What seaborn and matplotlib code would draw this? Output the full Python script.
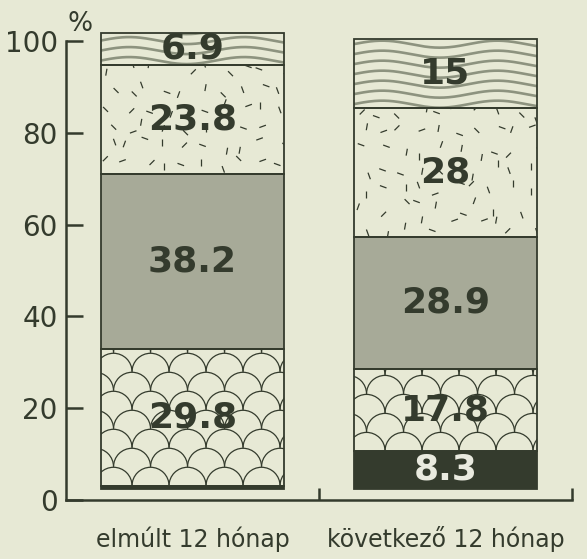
import numpy as np
import seaborn as sns
import matplotlib.pyplot as plt
from matplotlib.patches import Arc, Rectangle

# data: one value per period, segments listed bottom -> top
periods = ["elmúlt 12 hónap", "következő 12 hónap"]
dark = [0.7, 8.3]
scales = [29.8, 17.8]
gray = [38.2, 28.9]
dashes = [23.8, 28.0]
waves = [6.9, 15.0]
y_ticks = [0, 20, 40, 60, 80, 100]

# colours
bg = "#e7e9d5"
ink = "#343b2d"
gray_face = "#a7aa98"
wave_col = "#8d937f"
base = 2.4  # bars float a little above the axis line, like in the print

sns.set_theme(style="ticks", rc={"axes.facecolor": bg, "figure.facecolor": bg})
plt.rcParams["font.family"] = ["DejaVu Sans"]

fig = plt.figure(figsize=(5.87, 5.59), dpi=100)
ax = fig.add_axes([66 / 587, 59 / 559, 506 / 587, 468 / 559])


def frac(n):
    return (np.sin(n * 12.9898) * 43758.5453) % 1.0


def draw_scales(bar, sx, sy):
    x, y, w, h = bar.get_x(), bar.get_y(), bar.get_width(), bar.get_height()
    cw, rh = 37 / sx, 19 / sy
    for j in range(int(h / rh) + 2):
        shift = 13 / sx - cw / 2 + 0.5 * cw * (j % 2)
        for i in range(-1, int(w / cw) + 2):
            arc = Arc((x + shift + i * cw + cw / 2, y + j * rh), cw, 37 / sy,
                      theta1=0, theta2=180, color=ink, lw=0.9, zorder=2)
            ax.add_patch(arc)
            arc.set_clip_path(bar)


def draw_waves(bar, sx, sy):
    x, y, w, h = bar.get_x(), bar.get_y(), bar.get_width(), bar.get_height()
    xs = np.linspace(x, x + w, 200)
    xp = (xs - x) * sx
    for k in range(int(h * sy / 10) + 2):
        yp = 4 + k * 10 + 3.5 * np.sin(2 * np.pi * xp / 115)
        ln, = ax.plot(xs, y + yp / sy, color=wave_col, lw=1.9, zorder=2)
        ln.set_clip_path(bar)


def draw_dashes(bar, sx, sy, seed):
    x, y, w, h = bar.get_x(), bar.get_y(), bar.get_width(), bar.get_height()
    step = 19
    angles = [90, 70, 110, 45, 135, 160, 20, 80]
    n = seed * 1000
    for j in range(int(h * sy / step) + 1):
        for i in range(int(w * sx / step) + 1):
            n += 1
            cx = (i + 0.1 + 0.8 * frac(n)) * step
            cy = (j + 0.1 + 0.8 * frac(n + 0.37)) * step
            a = np.deg2rad(angles[int(frac(n + 0.71) * len(angles))])
            dx, dy = 3.5 * np.cos(a), 3.5 * np.sin(a)
            ln, = ax.plot([x + (cx - dx) / sx, x + (cx + dx) / sx],
                          [y + (cy - dy) / sy, y + (cy + dy) / sy],
                          color=ink, lw=0.9, zorder=2, solid_capstyle="butt")
            ln.set_clip_path(bar)


segments = [
    (dark, ink, "dark"),
    (scales, bg, "scales"),
    (gray, gray_face, "gray"),
    (dashes, bg, "dashes"),
    (waves, bg, "waves"),
]

bottom = np.full(len(periods), base)
drawn = []
for vals, face, kind in segments:
    before = len(ax.patches)
    sns.barplot(x=periods, y=vals, order=periods, bottom=bottom, width=0.727,
                color=face, saturation=1, errorbar=None, linewidth=0,
                zorder=1, ax=ax)
    drawn.append((kind, vals, ax.patches[before:]))
    bottom = bottom + np.array(vals)

ax.set_xlim(-0.5, 1.5)
ax.set_ylim(0, 102)
sx = ax.bbox.width / 2.0
sy = ax.bbox.height / 102.0

for kind, vals, bars in drawn:
    for k, (bar, v) in enumerate(zip(bars, vals)):
        if kind == "scales":
            draw_scales(bar, sx, sy)
        elif kind == "waves":
            draw_waves(bar, sx, sy)
        elif kind == "dashes":
            draw_dashes(bar, sx, sy, k + 1)
        ax.add_patch(Rectangle((bar.get_x(), bar.get_y()), bar.get_width(),
                               bar.get_height(), fill=False, edgecolor=ink,
                               lw=1.3, zorder=3))
        if v >= 3:
            txt_col = "#e9eadf" if kind == "dark" else ink
            ax.text(bar.get_x() + bar.get_width() / 2,
                    bar.get_y() + bar.get_height() / 2, f"{v:g}",
                    ha="center", va="center", fontsize=26, fontweight="bold",
                    color=txt_col, zorder=4)

# axes styling
for side in ["top", "right"]:
    ax.spines[side].set_visible(False)
for side in ["left", "bottom"]:
    ax.spines[side].set_color(ink)
    ax.spines[side].set_linewidth(1.8)
ax.spines["left"].set_bounds(0, 100)

ax.set_yticks(y_ticks)
ax.set_yticklabels([str(t) for t in y_ticks])
ax.tick_params(axis="y", direction="in", length=12, width=1.8, color=ink,
               labelsize=20, labelcolor=ink, pad=6)
ax.set_xticks(range(len(periods)))
ax.set_xticklabels(periods)
ax.set_xticks([0.5, 1.5], minor=True)
ax.tick_params(axis="x", which="major", length=0, labelsize=17,
               labelcolor=ink, pad=19)
ax.tick_params(axis="x", which="minor", direction="in", length=9, width=1.8,
               color=ink)
ax.set_xlabel("")
ax.set_ylabel("")
ax.text(0.028, 103.8, "%", transform=ax.get_yaxis_transform(), ha="center",
        va="center", fontsize=19, color=ink)

fig.savefig("out.png", dpi=100, facecolor=bg)
